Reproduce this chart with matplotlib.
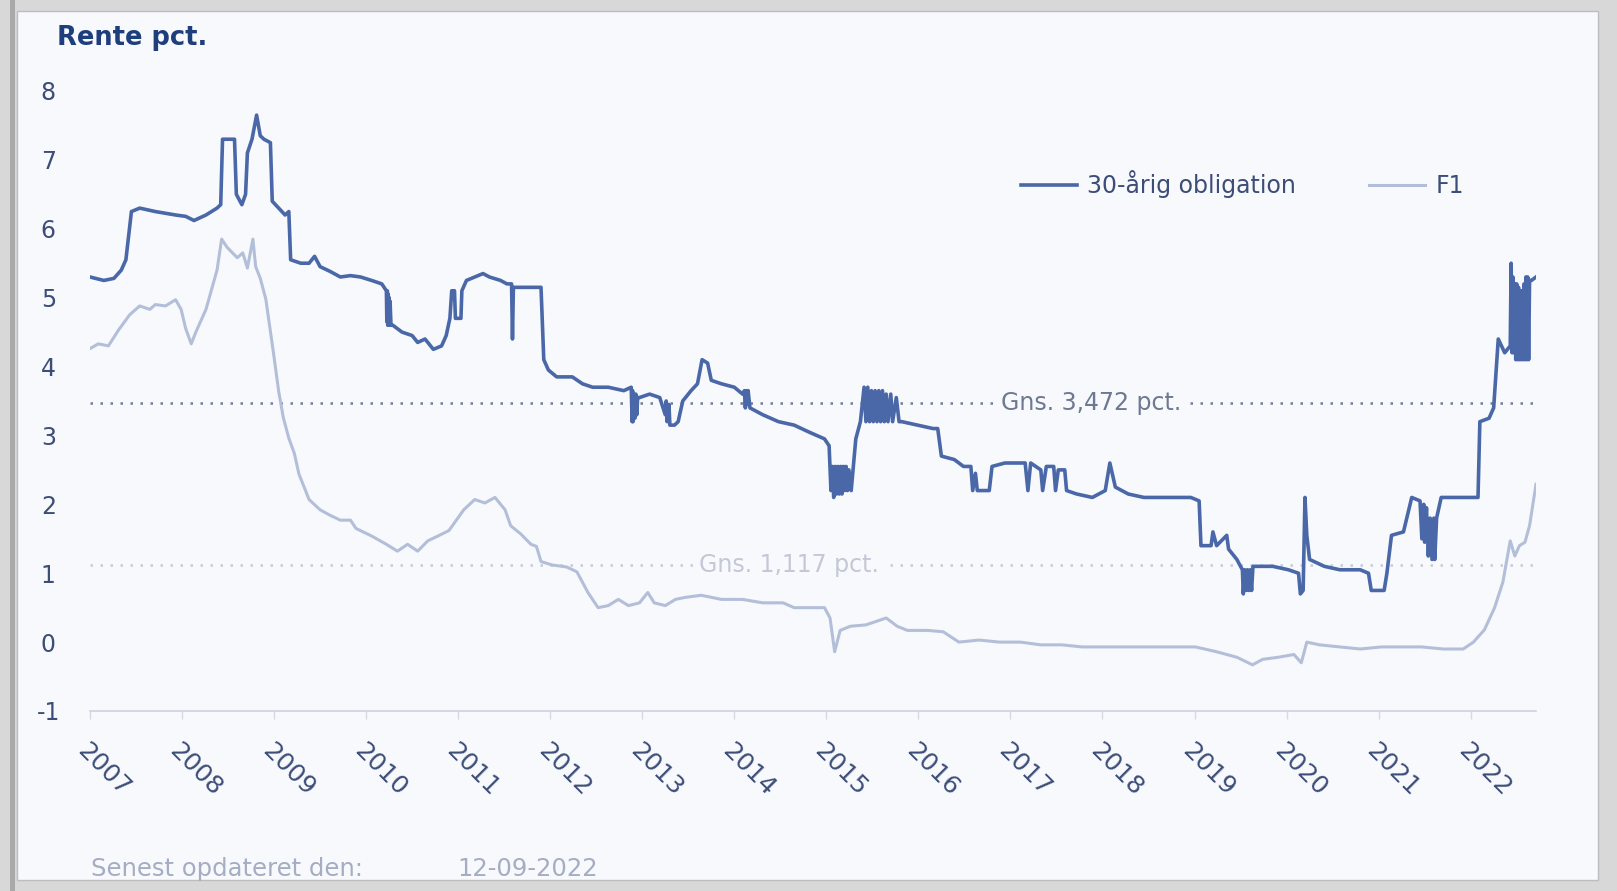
#!/usr/bin/env python3
"""Rente pct. - 30-aarig obligation vs F1, 2007-2022."""

import matplotlib
matplotlib.use("Agg")
import matplotlib.pyplot as plt
from matplotlib.patches import Rectangle

# 30-aarig obligation: (decimal year, pct.)
bond = [
    (2007.00, 5.30), (2007.15, 5.25), (2007.26, 5.28), (2007.34, 5.40), (2007.39, 5.55),
    (2007.45, 6.25), (2007.54, 6.30), (2007.71, 6.25), (2007.93, 6.20), (2008.04, 6.18),
    (2008.13, 6.12), (2008.26, 6.20), (2008.38, 6.30), (2008.42, 6.35), (2008.44, 7.30),
    (2008.57, 7.30), (2008.59, 6.50), (2008.65, 6.35), (2008.69, 6.50), (2008.71, 7.10),
    (2008.76, 7.30), (2008.81, 7.65), (2008.85, 7.35), (2008.89, 7.30), (2008.96, 7.25),
    (2008.98, 6.40), (2009.05, 6.30), (2009.12, 6.20), (2009.16, 6.25), (2009.18, 5.55),
    (2009.29, 5.50), (2009.38, 5.50), (2009.44, 5.60), (2009.50, 5.45), (2009.61, 5.38),
    (2009.72, 5.30), (2009.83, 5.32), (2009.94, 5.30), (2010.06, 5.25), (2010.17, 5.20),
    (2010.22, 5.10), (2010.225, 4.65), (2010.23, 5.10), (2010.235, 4.60), (2010.24, 5.05),
    (2010.245, 4.60), (2010.25, 5.00), (2010.255, 4.65), (2010.26, 4.95), (2010.27, 4.60),
    (2010.29, 4.60), (2010.39, 4.50), (2010.50, 4.45), (2010.56, 4.35), (2010.64, 4.40),
    (2010.73, 4.25), (2010.82, 4.30), (2010.87, 4.45), (2010.91, 4.70), (2010.93, 5.10),
    (2010.96, 5.10), (2010.97, 4.70), (2011.03, 4.70), (2011.04, 5.10), (2011.09, 5.25),
    (2011.18, 5.30), (2011.27, 5.35), (2011.34, 5.30), (2011.46, 5.25), (2011.53, 5.20),
    (2011.58, 5.20), (2011.59, 4.40), (2011.60, 5.15), (2011.90, 5.15), (2011.93, 4.10),
    (2011.98, 3.95), (2012.07, 3.85), (2012.24, 3.85), (2012.35, 3.75), (2012.46, 3.70),
    (2012.63, 3.70), (2012.80, 3.65), (2012.88, 3.70), (2012.89, 3.20), (2012.895, 3.65),
    (2012.90, 3.20), (2012.91, 3.60), (2012.92, 3.25), (2012.93, 3.60), (2012.94, 3.30),
    (2012.95, 3.55), (2012.97, 3.55), (2013.08, 3.60), (2013.19, 3.55), (2013.25, 3.30),
    (2013.26, 3.50), (2013.27, 3.20), (2013.29, 3.45), (2013.30, 3.15), (2013.35, 3.15),
    (2013.39, 3.20), (2013.44, 3.50), (2013.53, 3.65), (2013.60, 3.75), (2013.65, 4.10),
    (2013.71, 4.05), (2013.75, 3.80), (2013.86, 3.75), (2014.00, 3.70), (2014.09, 3.60),
    (2014.11, 3.65), (2014.12, 3.40), (2014.13, 3.65), (2014.14, 3.45), (2014.15, 3.65),
    (2014.17, 3.40), (2014.31, 3.30), (2014.48, 3.20), (2014.65, 3.15), (2014.81, 3.05),
    (2014.98, 2.95), (2015.03, 2.85), (2015.05, 2.20), (2015.065, 2.55), (2015.08, 2.10),
    (2015.095, 2.55), (2015.11, 2.15), (2015.125, 2.55), (2015.14, 2.15), (2015.155, 2.55),
    (2015.17, 2.15), (2015.185, 2.55), (2015.20, 2.20), (2015.215, 2.55), (2015.23, 2.20),
    (2015.245, 2.50), (2015.27, 2.20), (2015.32, 2.95), (2015.37, 3.20), (2015.41, 3.70),
    (2015.43, 3.20), (2015.45, 3.70), (2015.47, 3.20), (2015.49, 3.65), (2015.51, 3.20),
    (2015.53, 3.65), (2015.55, 3.20), (2015.57, 3.65), (2015.59, 3.20), (2015.61, 3.65),
    (2015.63, 3.20), (2015.65, 3.60), (2015.67, 3.20), (2015.70, 3.60), (2015.72, 3.20),
    (2015.76, 3.55), (2015.79, 3.20), (2015.82, 3.20), (2015.99, 3.15), (2016.16, 3.10),
    (2016.21, 3.10), (2016.25, 2.70), (2016.39, 2.65), (2016.49, 2.55), (2016.57, 2.55),
    (2016.59, 2.20), (2016.62, 2.45), (2016.64, 2.20), (2016.77, 2.20), (2016.80, 2.55),
    (2016.94, 2.60), (2017.16, 2.60), (2017.19, 2.20), (2017.22, 2.60), (2017.33, 2.50),
    (2017.35, 2.20), (2017.39, 2.55), (2017.47, 2.55), (2017.49, 2.20), (2017.52, 2.50),
    (2017.59, 2.50), (2017.61, 2.20), (2017.72, 2.15), (2017.89, 2.10), (2018.03, 2.20),
    (2018.08, 2.60), (2018.14, 2.25), (2018.28, 2.15), (2018.45, 2.10), (2018.68, 2.10),
    (2018.96, 2.10), (2019.05, 2.05), (2019.07, 1.40), (2019.18, 1.40), (2019.20, 1.60),
    (2019.24, 1.40), (2019.35, 1.55), (2019.37, 1.35), (2019.46, 1.20), (2019.52, 1.05),
    (2019.53, 0.70), (2019.545, 1.05), (2019.56, 0.75), (2019.575, 1.05), (2019.59, 0.75),
    (2019.605, 1.05), (2019.62, 0.75), (2019.635, 1.10), (2019.68, 1.10), (2019.85, 1.10),
    (2020.02, 1.05), (2020.13, 1.00), (2020.15, 0.70), (2020.18, 0.75), (2020.20, 2.10),
    (2020.22, 1.55), (2020.25, 1.20), (2020.41, 1.10), (2020.58, 1.05), (2020.80, 1.05),
    (2020.89, 1.00), (2020.92, 0.75), (2021.06, 0.75), (2021.09, 1.00), (2021.14, 1.55),
    (2021.27, 1.60), (2021.36, 2.10), (2021.45, 2.05), (2021.47, 1.50), (2021.49, 2.00),
    (2021.50, 1.45), (2021.52, 1.95), (2021.54, 1.25), (2021.56, 1.80), (2021.58, 1.20),
    (2021.60, 1.80), (2021.61, 1.20), (2021.63, 1.80), (2021.68, 2.10), (2021.87, 2.10),
    (2022.03, 2.10), (2022.08, 2.10), (2022.10, 3.20), (2022.20, 3.25), (2022.25, 3.40),
    (2022.27, 3.80), (2022.30, 4.40), (2022.37, 4.20), (2022.43, 4.30), (2022.44, 5.50),
    (2022.45, 4.20), (2022.46, 5.30), (2022.47, 4.20), (2022.48, 5.20), (2022.49, 4.10),
    (2022.50, 5.20), (2022.51, 4.10), (2022.52, 5.15), (2022.53, 4.10), (2022.54, 5.10),
    (2022.55, 4.10), (2022.56, 5.10), (2022.57, 4.10), (2022.58, 5.20), (2022.59, 4.10),
    (2022.60, 5.30), (2022.61, 4.10), (2022.62, 5.30), (2022.63, 4.10), (2022.64, 5.25),
    (2022.66, 5.25), (2022.71, 5.30),
]
bond_t, bond_v = zip(*bond)

# F1 (decimal year, pct.)
f1_t = [2007.00, 2007.09, 2007.20, 2007.31, 2007.43, 2007.54, 2007.65, 2007.71, 2007.82, 2007.93,
        2007.99, 2008.04, 2008.10, 2008.15, 2008.26, 2008.38, 2008.43, 2008.49, 2008.60, 2008.66,
        2008.71, 2008.77, 2008.80, 2008.85, 2008.91, 2008.99, 2009.05, 2009.10, 2009.16, 2009.22,
        2009.27, 2009.38, 2009.50, 2009.61, 2009.72, 2009.83, 2009.89, 2010.06, 2010.22, 2010.34,
        2010.45, 2010.56, 2010.67, 2010.78, 2010.90, 2011.06, 2011.18, 2011.29, 2011.40, 2011.51,
        2011.57, 2011.68, 2011.79, 2011.85, 2011.90, 2012.02, 2012.18, 2012.29, 2012.41, 2012.52,
        2012.63, 2012.74, 2012.85, 2012.97, 2013.06, 2013.13, 2013.25, 2013.36, 2013.47, 2013.64,
        2013.86, 2014.09, 2014.31, 2014.53, 2014.65, 2014.98, 2015.04, 2015.09, 2015.15, 2015.26,
        2015.43, 2015.65, 2015.77, 2015.88, 2016.10, 2016.27, 2016.44, 2016.66, 2016.88, 2017.11,
        2017.33, 2017.56, 2017.78, 2018.00, 2018.34, 2018.68, 2019.01, 2019.24, 2019.46, 2019.63,
        2019.74, 2019.91, 2020.08, 2020.16, 2020.22, 2020.36, 2020.58, 2020.80, 2021.03, 2021.25,
        2021.47, 2021.70, 2021.92, 2022.03, 2022.15, 2022.26, 2022.35, 2022.43, 2022.48, 2022.53,
        2022.59, 2022.64, 2022.71]
f1_v = [4.26, 4.33, 4.30, 4.53, 4.75, 4.88, 4.83, 4.90, 4.88, 4.97,
        4.83, 4.55, 4.33, 4.50, 4.83, 5.40, 5.85, 5.73, 5.58, 5.65,
        5.43, 5.85, 5.45, 5.28, 4.98, 4.23, 3.64, 3.26, 2.96, 2.74,
        2.44, 2.07, 1.92, 1.84, 1.77, 1.77, 1.65, 1.54, 1.42, 1.32,
        1.42, 1.32, 1.47, 1.54, 1.62, 1.92, 2.07, 2.02, 2.10, 1.92,
        1.69, 1.57, 1.42, 1.39, 1.17, 1.12, 1.09, 1.02, 0.72, 0.50,
        0.53, 0.62, 0.53, 0.57, 0.72, 0.57, 0.53, 0.62, 0.65, 0.68,
        0.62, 0.62, 0.57, 0.57, 0.50, 0.50, 0.35, -0.14, 0.17, 0.23,
        0.25, 0.35, 0.23, 0.17, 0.17, 0.15, 0.00, 0.03, 0.00, 0.00,
        -0.04, -0.04, -0.07, -0.07, -0.07, -0.07, -0.07, -0.14, -0.22, -0.33,
        -0.25, -0.22, -0.18, -0.30, 0.00, -0.04, -0.07, -0.10, -0.07, -0.07,
        -0.07, -0.10, -0.10, 0.00, 0.18, 0.50, 0.87, 1.47, 1.25, 1.40,
        1.45, 1.69, 2.29]

avg_bond = 3.472
avg_f1 = 1.117
years = list(range(2007, 2023))
y_ticks = list(range(-1, 9))
updated = "12-09-2022"

BOND_COLOR = "#4a68a8"
F1_COLOR = "#b3bfd8"
PANEL = "#f8f9fd"
TEXT = "#3c4d78"
FONT = "DejaVu Sans"
FS = 17

W, H = 1617, 891
fig = plt.figure(figsize=(W / 100, H / 100), dpi=100)
fig.patch.set_facecolor("#d8d8d8")

# screenshot frame around the chart panel
fig.patches.append(Rectangle((10 / W, 0), 5 / W, 1, transform=fig.transFigure,
                             facecolor="#a9a9a9", edgecolor="none", zorder=0))
fig.patches.append(Rectangle((17 / W, 1 - 880 / H), (1598 - 17) / W, (880 - 11) / H,
                             transform=fig.transFigure, facecolor=PANEL,
                             edgecolor="#bdbdbd", linewidth=1.0, zorder=0.5))

ax = fig.add_axes([90 / W, 1 - 711 / H, (1536 - 90) / W, (711 - 91) / H])
ax.set_zorder(5)
ax.set_facecolor("none")

ax.plot(f1_t, f1_v, color=F1_COLOR, lw=2.2, zorder=3, label="F1")
ax.plot(bond_t, bond_v, color=BOND_COLOR, lw=2.6, zorder=4, label="30-årig obligation")

# average lines
ax.axhline(avg_bond, color="#6f7c9c", lw=1.8, ls=(0, (1, 3.0)), zorder=2)
ax.axhline(avg_f1, color="#c3cad9", lw=1.8, ls=(0, (1, 3.0)), zorder=2)
ax.text(2017.88, avg_bond, "Gns. 3,472 pct.", color="#6e7892", fontsize=FS, family=FONT,
        ha="center", va="center", zorder=2.5,
        bbox=dict(boxstyle="square,pad=0.25", fc=PANEL, ec="none"))
ax.text(2014.59, avg_f1, "Gns. 1,117 pct.", color="#c2c8d6", fontsize=FS, family=FONT,
        ha="center", va="center", zorder=2.5,
        bbox=dict(boxstyle="square,pad=0.25", fc=PANEL, ec="none"))

ax.set_xlim(2007, 2022.71)
ax.set_ylim(-1, 8)
ax.set_yticks(y_ticks)
ax.set_yticklabels([str(v) for v in y_ticks])
ax.set_xticks(years)
ax.set_xticklabels([str(y) for y in years], rotation=-45, ha="left", va="top",
                   rotation_mode="anchor")

for s in ["top", "right", "left"]:
    ax.spines[s].set_visible(False)
ax.spines["bottom"].set_color("#ccd2de")
ax.spines["bottom"].set_linewidth(1.2)
ax.tick_params(axis="y", length=0, pad=30, labelsize=FS, labelcolor=TEXT)
ax.tick_params(axis="x", length=6, width=1, color="#d5dae5", pad=14,
               labelsize=18, labelcolor=TEXT)
for lab in ax.get_xticklabels() + ax.get_yticklabels():
    lab.set_family(FONT)
for lab in ax.get_yticklabels():
    lab.set_horizontalalignment("center")

handles, labels = ax.get_legend_handles_labels()
leg = ax.legend(handles[::-1], labels[::-1], loc="center left", bbox_to_anchor=(0.644, 0.85),
                ncol=2, frameon=False, borderpad=0, borderaxespad=0,
                handlelength=2.35, handletextpad=0.45, columnspacing=3.1,
                prop={"family": FONT, "size": FS})
for t in leg.get_texts():
    t.set_color(TEXT)

fig.text(57 / W, 1 - 38 / H, "Rente pct.", fontsize=18.5, fontweight="bold",
         color="#1f3e7c", family=FONT, ha="left", va="center", zorder=6)
fig.text(91 / W, 1 - 869 / H, "Senest opdateret den:", fontsize=17.5, color="#a5adc3",
         family=FONT, ha="left", va="center", zorder=6)
fig.text(457 / W, 1 - 869 / H, updated, fontsize=17.5, color="#a5adc3",
         family=FONT, ha="left", va="center", zorder=6)

fig.savefig("out.png", dpi=100, facecolor=fig.get_facecolor())
